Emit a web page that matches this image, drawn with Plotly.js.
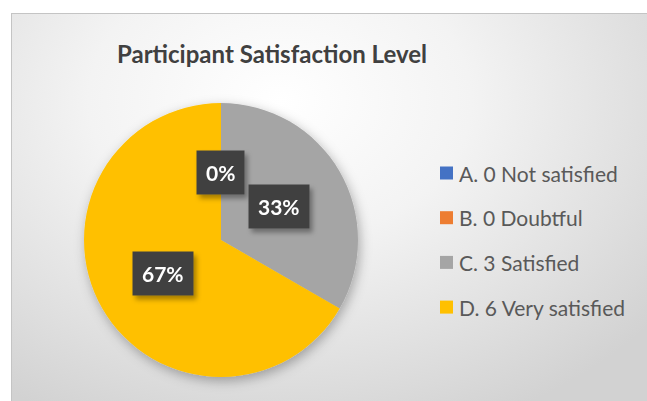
<!DOCTYPE html>
<html>
<head>
<meta charset="utf-8">
<script src="https://cdn.plot.ly/plotly-3.0.1.min.js"></script>
<style>
  html, body { margin:0; padding:0; background:#ffffff; width:647px; height:401px; overflow:hidden; }
  #frame { position:absolute; left:11px; top:13px; width:640px; height:395px;
    border:1px solid #c4c4c4; box-sizing:border-box;
    background: radial-gradient(ellipse 75% 90% at 42% 22%, #ffffff 0%, #f3f3f3 40%, #e0e0e0 75%, #d2d2d2 100%); }
  #chart { position:absolute; left:0; top:0; width:647px; height:401px; }
</style>
</head>
<body>
<div id="frame"></div>
<div id="chart"></div>
<script>
// ---- data ----
const categories = ["A. 0 Not satisfied", "B. 0 Doubtful", "C. 3 Satisfied", "D. 6 Very satisfied"];
const values = [0, 0, 3, 6];
const colors = ["#4472C4", "#ED7D31", "#A5A5A5", "#FFC000"];
const chartTitle = "Participant Satisfaction Level";

// ---- layout geometry (pixels) ----
const W = 647, H = 401;
const CX = 221, CY = 240, R = 137;
const FONT = "Lato, 'Open Sans', sans-serif";
const px = x => x / W;
const py = y => 1 - y / H;

const total = values.reduce((a, b) => a + b, 0);
const annotations = [];
const shapes = [];

// data labels (percent) placed along each slice's mid angle (coincident labels drawn once)
let cum = 0;
const seen = new Set();
let nLabels = 0;
values.forEach((v, i) => {
  const mid = (cum + v / 2) / total * 2 * Math.PI;
  cum += v;
  const d = R * 0.49;
  const x = CX + d * Math.sin(mid);
  const y = CY - d * Math.cos(mid);
  const key = Math.round(x) + "," + Math.round(y);
  if (seen.has(key)) return;
  seen.add(key);
  const pct = Math.round(v / total * 100) + "%";
  annotations.push({
    xref: "paper", yref: "paper", x: px(x), y: py(y), xanchor: "center", yanchor: "middle",
    text: "<b>" + pct + "</b>", showarrow: false, bgcolor: "#404040", borderpad: 9,
    font: { family: FONT, size: 21, color: "#ffffff" }
  });
  nLabels++;
});

// manual legend
const LEG_X = 440, LEG_Y0 = 173, LEG_DY = 44.7, SQ = 13;
categories.forEach((c, i) => {
  const yc = LEG_Y0 + i * LEG_DY;
  shapes.push({
    type: "rect", xref: "paper", yref: "paper",
    x0: px(LEG_X), x1: px(LEG_X + SQ), y0: py(yc + SQ / 2), y1: py(yc - SQ / 2),
    fillcolor: colors[i], line: { width: 0 }
  });
  annotations.push({
    xref: "paper", yref: "paper", x: px(LEG_X + 17), y: py(yc), xanchor: "left", yanchor: "middle",
    text: c, showarrow: false, font: { family: FONT, size: 21, color: "#595959" }
  });
});

const data = [{
  type: "pie",
  labels: categories,
  values: values,
  sort: false,
  direction: "clockwise",
  rotation: 0,
  textinfo: "none",
  hoverinfo: "label+percent",
  marker: { colors: colors, line: { width: 0 } },
  domain: { x: [px(CX - R), px(CX + R)], y: [py(CY + R), py(CY - R)] },
  showlegend: false
}];

const layout = {
  width: W, height: H,
  margin: { l: 0, r: 0, t: 0, b: 0 },
  paper_bgcolor: "rgba(0,0,0,0)",
  plot_bgcolor: "rgba(0,0,0,0)",
  showlegend: false,
  title: {
    text: "<b>" + chartTitle + "</b>",
    x: px(272), xanchor: "center", y: py(55), yanchor: "middle",
    font: { family: FONT, size: 24, color: "#404040" }
  },
  annotations: annotations,
  shapes: shapes
};

Plotly.newPlot("chart", data, layout, { displayModeBar: false, staticPlot: true }).then(gd => {
  const svg = gd.querySelector(".main-svg");
  const ns = "http://www.w3.org/2000/svg";
  let defs = svg.querySelector("defs");
  if (!defs) { defs = document.createElementNS(ns, "defs"); svg.insertBefore(defs, svg.firstChild); }
  const mk = (id, dx, dy, sd, op) => {
    const f = document.createElementNS(ns, "filter");
    f.setAttribute("id", id);
    f.setAttribute("x", "-30%"); f.setAttribute("y", "-30%");
    f.setAttribute("width", "160%"); f.setAttribute("height", "160%");
    f.innerHTML = '<feDropShadow dx="' + dx + '" dy="' + dy + '" stdDeviation="' + sd + '" flood-color="#000" flood-opacity="' + op + '"/>';
    defs.appendChild(f);
  };
  mk("pieShadow", 2, 4, 6, 0.3);
  mk("lblShadow", 3, 4, 2.5, 0.35);
  const pie = gd.querySelector(".pielayer");
  if (pie) pie.setAttribute("filter", "url(#pieShadow)");
  const anns = gd.querySelectorAll(".annotation");
  for (let i = 0; i < nLabels && i < anns.length; i++) anns[i].setAttribute("filter", "url(#lblShadow)");
});
</script>
</body>
</html>
